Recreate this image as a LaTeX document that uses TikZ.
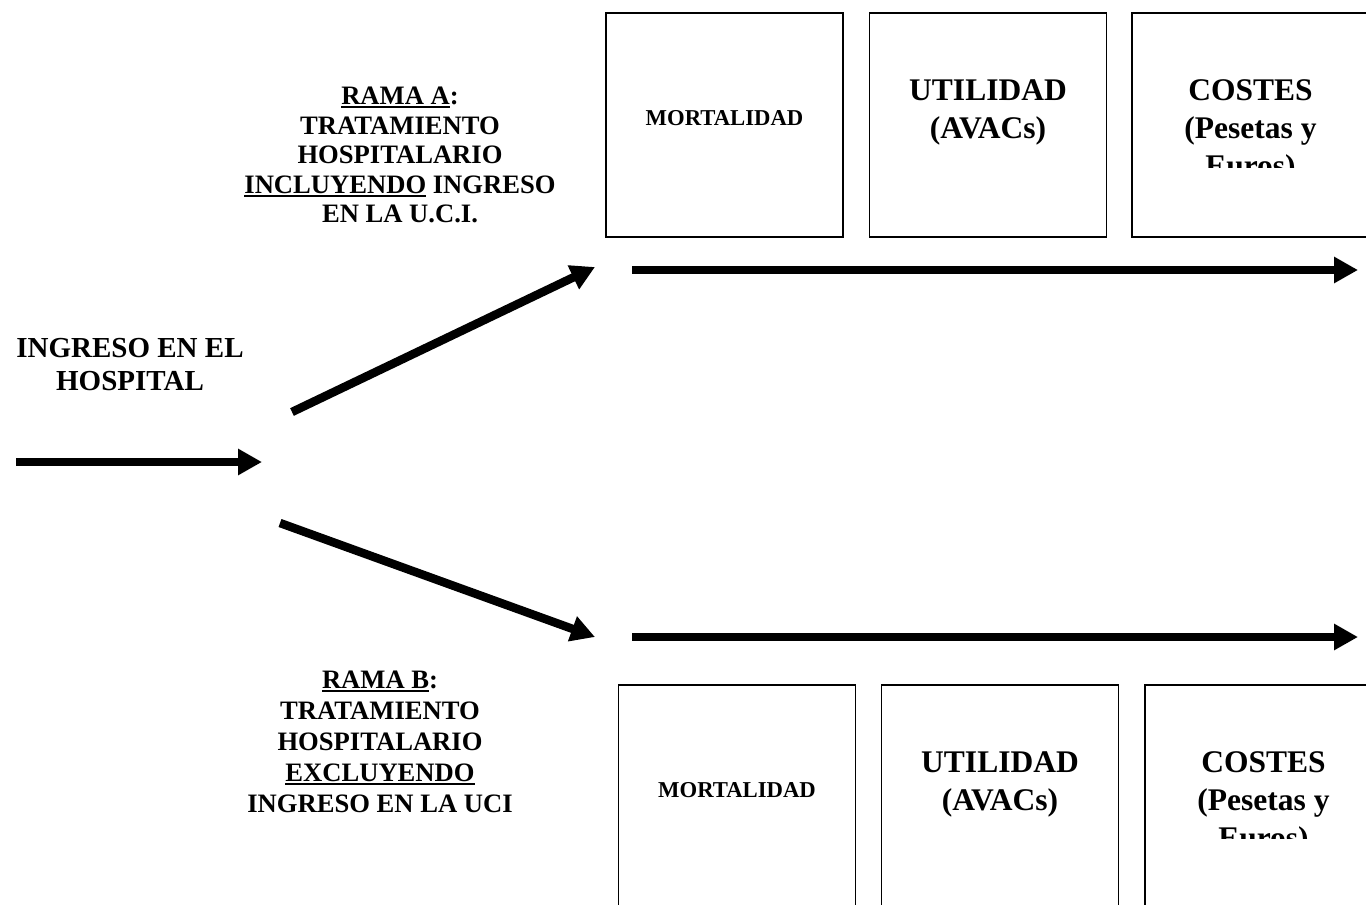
\documentclass[tikz,border=0pt]{standalone}
\usepackage{fontspec}
\setmainfont{Liberation Serif}
\usetikzlibrary{arrows.meta}
\newcommand\myul[1]{\setbox0\hbox{#1}\rlap{\rule[-3.5pt]{\wd0}{1.8pt}}\box0\relax}
\begin{document}
\begin{tikzpicture}[x=1pt,y=-1pt,
  box/.style={draw, line width=1.6pt, minimum width=237pt, minimum height=224pt, inner sep=0pt},
  big/.style={font=\bfseries\fontsize{31.5}{38}\selectfont, align=center, inner sep=0pt, anchor=north},
  small/.style={font=\bfseries\fontsize{22.7}{27}\selectfont, inner sep=0pt},
  side/.style={font=\bfseries\fontsize{26.6}{29.5}\selectfont, align=center, inner sep=0pt, anchor=north},
  sideb/.style={font=\bfseries\fontsize{26.6}{31}\selectfont, align=center, inner sep=0pt, anchor=north},
  entry/.style={font=\bfseries\fontsize{29}{33}\selectfont, align=center, inner sep=0pt, anchor=north},
  arr/.style={line width=8.5pt, -{Triangle[length=24pt,width=25pt]}}]
\useasboundingbox (0,0) rectangle (1366,905);
\fill[white] (0,0) rectangle (1366,905);
\clip (0,0) rectangle (1366,905);

% top boxes
\node[box] (boxA1) at (724.5,125) {};
\node[box] (boxA2) at (988,125) {};
\node[box] (boxA3) at (1250.5,125) {};
% bottom boxes
\node[box] (boxB1) at (737,797) {};
\node[box] (boxB2) at (1000,797) {};
\node[box] (boxB3) at (1263.5,797) {};

% box texts
\node[small] (mortA) at (724.5,118) {MORTALIDAD};
\node[big] (utilA) at (988,79.6) {UTILIDAD\\(AVACs)};
\begin{scope}
  \clip (1132,0) rectangle (1366,167);
  \node[big] (costA) at (1250.5,79.6) {COSTES\\(Pesetas y\\Euros)};
\end{scope}
\node[small] (mortB) at (737,790) {MORTALIDAD};
\node[big] (utilB) at (1000,751.6) {UTILIDAD\\(AVACs)};
\begin{scope}
  \clip (1145,700) rectangle (1366,838);
  \node[big] (costB) at (1263.5,751.6) {COSTES\\(Pesetas y\\Euros)};
\end{scope}

% side texts
\node[side] (ramaA) at (400,87) {\myul{RAMA A}:\\TRATAMIENTO\\HOSPITALARIO\\\myul{INCLUYENDO} INGRESO\\EN LA U.C.I.};
\node[sideb] (ramaB) at (380,671) {\myul{RAMA B}:\\TRATAMIENTO\\HOSPITALARIO\\\myul{EXCLUYENDO}\\INGRESO EN LA UCI};
\node[entry] (ingreso) at (130,338.4) {INGRESO EN EL\\HOSPITAL};

% arrow coordinates
\coordinate (in0) at (16,462);
\coordinate (in1) at (262,462);
\coordinate (up0) at (292,412);
\coordinate (up1) at (595,267);
\coordinate (dn0) at (280,523);
\coordinate (dn1) at (595,637);
\coordinate (ta0) at (632,270);
\coordinate (ta1) at (1358,270);
\coordinate (tb0) at (632,637);
\coordinate (tb1) at (1358,637);

\draw[arr] (in0) -- (in1);
\draw[arr] (up0) -- (up1);
\draw[arr] (dn0) -- (dn1);
\draw[arr] (ta0) -- (ta1);
\draw[arr] (tb0) -- (tb1);
\end{tikzpicture}
\end{document}
